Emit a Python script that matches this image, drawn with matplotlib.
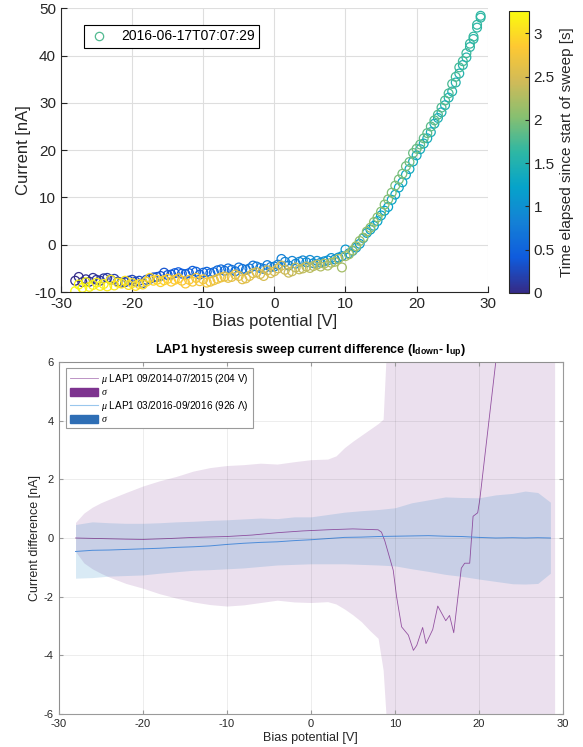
import numpy as np
import matplotlib.pyplot as plt
from matplotlib.colors import LinearSegmentedColormap, Normalize
from matplotlib.cm import ScalarMappable
from matplotlib.lines import Line2D
from matplotlib.patches import Patch

plt.rcParams['font.family'] = ['Liberation Sans', 'DejaVu Sans']
plt.rcParams['mathtext.fontset'] = 'custom'
plt.rcParams['mathtext.rm'] = 'Liberation Sans'
plt.rcParams['mathtext.bf'] = 'Liberation Sans:bold'
plt.rcParams['mathtext.it'] = 'Liberation Serif:italic'
plt.rcParams['axes.unicode_minus'] = False

# ---- top panel: one sweep, up then down ----
bias_up = np.arange(-28, 29.01, 0.5)
bias_down = bias_up[::-1]
cur_up = [-7.6, -6.8, -7.9, -7.3, -7.8, -7.0, -7.4, -7.6, -7.1, -7.0,
          -7.4, -7.2, -7.8, -8.0, -7.9, -7.6, -7.4, -7.8, -7.6, -8.1,
          -7.4, -7.2, -6.9, -6.8, -6.6, -5.9, -6.4, -6.3, -6.0, -5.8,
          -6.1, -6.2, -6.0, -5.5, -5.7, -6.3, -5.9, -5.7, -6.0, -5.8,
          -5.4, -5.2, -5.5, -5.0, -5.3, -5.6, -4.8, -5.1, -5.3, -5.0,
          -4.4, -4.6, -4.9, -5.1, -4.3, -4.7, -4.6, -4.2, -3.0, -3.6,
          -4.4, -3.4, -4.0, -3.6, -3.3, -3.7, -3.2, -3.9, -3.4, -3.8,
          -3.5, -3.3, -2.8, -3.1, -2.7, -2.4, -1.0, -1.8, -1.3, -0.6,
          0.2, 1.4, 2.5, 3.2, 4.0, 5.0, 6.2, 7.2, 8.0, 9.5,
          10.6, 12.1, 13.2, 14.8, 16.0, 17.6, 18.9, 20.2, 21.4, 22.5,
          23.8, 25.6, 26.8, 28.0, 29.5, 31.1, 32.4, 34.3, 36.2, 38.0,
          39.6, 41.8, 43.5, 45.9, 48.4]
cur_down = [48.0, 46.5, 44.0, 42.5, 40.5, 38.8, 37.5, 35.5, 34.0, 32.0,
            30.5, 29.0, 27.5, 26.3, 25.0, 23.6, 22.5, 21.2, 20.3, 19.4,
            17.5, 16.6, 15.0, 13.8, 12.5, 11.0, 9.6, 8.5, 7.0, 5.8,
            4.8, 3.6, 2.8, 1.5, 0.8, -0.3, -1.2, -2.0, -2.4, -4.8,
            -3.0, -3.6, -3.8, -4.4, -4.0, -4.6, -4.2, -4.5, -4.9, -4.6,
            -5.0, -5.2, -4.8, -5.6, -5.9, -5.3, -4.4, -5.0, -5.6, -6.0,
            -5.4, -6.6, -6.2, -5.8, -6.0, -6.6, -7.1, -7.3, -6.6, -6.3,
            -6.8, -7.0, -6.7, -6.9, -7.2, -7.5, -7.8, -8.0, -7.3, -7.7,
            -7.0, -7.8, -7.4, -8.2, -7.6, -7.1, -7.4, -7.8, -7.2, -7.5,
            -7.9, -7.4, -7.6, -7.0, -7.8, -8.4, -8.3, -8.7, -8.1, -8.5,
            -7.6, -8.2, -8.0, -8.6, -7.4, -8.8, -8.3, -8.7, -8.0, -8.5,
            -8.9, -7.9, -9.1, -8.4, -9.8]
t_end = 3.26
sweep_label = '2016-06-17T07:07:29'

# ---- bottom panel: hysteresis statistics ----
p_band_x = [-28, -27, -26, -25, -24, -22, -20, -18, -16, -14, -12, -10, -8, -6,
            -4, -2, 0, 2, 3, 4, 5, 6, 7, 8, 8.6, 9.0, 9.5, 29]
p_hi = [0.53, 0.85, 1.05, 1.2, 1.32, 1.55, 1.77, 1.95, 2.1, 2.28, 2.4, 2.47, 2.5, 2.55,
        2.52, 2.6, 2.67, 2.69, 2.8, 3.08, 3.3, 3.5, 3.7, 3.9, 4.05, 6.5, 12, 12]
p_lo = [-0.46, -0.85, -1.05, -1.2, -1.33, -1.55, -1.71, -1.9, -2.05, -2.18, -2.27, -2.32, -2.28, -2.2,
        -2.12, -2.18, -2.2, -2.17, -2.25, -2.42, -2.62, -2.85, -3.15, -3.42, -4.5, -6.3, -12, -12]
p_mu_x = [-28, -25, -22, -20, -17, -14, -10, -7, -4, -1, 2, 5, 8, 8.4, 8.8, 9.4, 9.8,
          10.2, 10.8, 11.6, 12.2, 12.6, 13.3, 13.7, 14.5, 15.1, 16.05, 16.5, 17.0,
          17.9, 18.3, 18.9, 19.1, 19.3, 19.85, 20.1, 22.0, 22.5]
p_mu = [0.0, -0.02, -0.04, -0.05, -0.02, 0.02, 0.05, 0.1, 0.18, 0.24, 0.28, 0.31, 0.28, 0.2, -0.1, -0.7, -1.1,
        -2.0, -3.03, -3.31, -3.83, -3.66, -3.05, -3.6, -3.12, -2.32, -2.82, -2.64, -3.23,
        -1.03, -0.86, -0.86, -0.06, 0.74, 0.86, 1.31, 6.0, 8.0]
b_x = [-28, -26, -24, -22, -20, -18, -16, -14, -12, -10, -8, -6, -4, -2, 0,
       2, 4, 6, 8, 10, 12, 14, 16, 18, 20, 22, 24, 25.5, 27, 28.5]
b_hi = [0.46, 0.55, 0.52, 0.5, 0.5, 0.52, 0.55, 0.57, 0.6, 0.62, 0.65, 0.68, 0.66, 0.72, 0.72,
        0.8, 0.88, 0.93, 0.97, 1.03, 1.2, 1.3, 1.4, 1.38, 1.37, 1.47, 1.52, 1.6, 1.55, 1.22]
b_lo = [-1.37, -1.35, -1.3, -1.28, -1.26, -1.2, -1.15, -1.1, -1.08, -1.05, -1.02, -0.97, -0.92, -0.9, -0.88,
        -0.88, -0.88, -0.9, -0.92, -0.95, -1.05, -1.14, -1.24, -1.31, -1.4, -1.48, -1.56, -1.57, -1.55, -1.2]
b_mu = [-0.46, -0.42, -0.41, -0.39, -0.37, -0.35, -0.32, -0.3, -0.27, -0.22, -0.18, -0.15, -0.13, -0.09, -0.06,
        -0.02, 0.02, 0.03, 0.05, 0.06, 0.07, 0.08, 0.06, 0.05, 0.02, 0.0, 0.01, 0.0, 0.01, 0.0]
lab_p = r'$\mu$ LAP1 09/2014-07/2015 (204 V)'
lab_b = r'$\mu$ LAP1 03/2016-09/2016 (926 Λ)'

parula = LinearSegmentedColormap.from_list('parula', [
    (0.2081, 0.1663, 0.5292), (0.0592, 0.3599, 0.8684), (0.0780, 0.5041, 0.8384),
    (0.0232, 0.6407, 0.7925), (0.1802, 0.7178, 0.6425), (0.5301, 0.7491, 0.4394),
    (0.8186, 0.7328, 0.3446), (0.9956, 0.7862, 0.1963), (0.9763, 0.9831, 0.0538)])

dark = (0.15, 0.15, 0.15)
purple = (0.494, 0.184, 0.556)
blue = (0.0, 0.447, 0.741)

fig = plt.figure(figsize=(5.83, 7.47), dpi=100)
ax1 = fig.add_axes([0.1046, 0.609, 0.732, 0.380])
cax = fig.add_axes([0.873, 0.608, 0.034, 0.3775])
ax2 = fig.add_axes([0.1007, 0.0442, 0.865, 0.4712])

# top
bias = np.concatenate([bias_up, bias_down])
cur = np.array(cur_up + cur_down)
t = np.linspace(0, t_end, len(bias))
norm = Normalize(0, t_end)
ax1.scatter(bias, cur, s=40, facecolors='none', edgecolors=parula(norm(t)), linewidths=0.9)
ax1.set_xlim(-30, 30)
ax1.set_ylim(-10, 50)
ax1.set_xticks(range(-30, 31, 10))
ax1.set_yticks(range(-10, 51, 10))
ax1.grid(True, color='#dedede', lw=0.8)
ax1.set_axisbelow(True)
for s in ['top', 'right']:
    ax1.spines[s].set_visible(False)
for s in ['left', 'bottom']:
    ax1.spines[s].set_color(dark)
ax1.tick_params(direction='in', length=4, labelsize=11, colors=dark)
ax1.set_xlabel('Bias potential [V]', fontsize=12, color=dark, labelpad=2)
ax1.set_ylabel('Current [nA]', fontsize=12, color=dark, labelpad=2)
h = Line2D([], [], ls='none', marker='o', mfc='none', mec=parula(0.55), ms=6, mew=0.9)
leg = ax1.legend([h], [sweep_label], loc='upper left', bbox_to_anchor=(0.054, 0.94),
                 borderaxespad=0, fontsize=10, fancybox=False, framealpha=1,
                 handlelength=1.6, borderpad=0.3)
leg.get_frame().set_edgecolor('black')
leg.get_frame().set_linewidth(0.8)

cb = fig.colorbar(ScalarMappable(norm=norm, cmap=parula), cax=cax)
cb.set_ticks([0, 0.5, 1, 1.5, 2, 2.5, 3])
cb.set_ticklabels(['0', '0.5', '1', '1.5', '2', '2.5', '3'])
cb.ax.tick_params(direction='in', length=3, labelsize=11, colors=dark)
cb.outline.set_edgecolor(dark)
cb.set_label('Time elapsed since start of sweep [s]', fontsize=11, color=dark)

# bottom
ax2.fill_between(p_band_x, p_lo, p_hi, color=purple, alpha=0.15, lw=0)
ax2.fill_between(b_x, b_lo, b_hi, color=blue, alpha=0.15, lw=0)
ax2.plot(p_mu_x, p_mu, color=purple, lw=0.6, alpha=0.8)
ax2.plot(b_x, b_mu, color=(0.3, 0.55, 0.85), lw=0.7)
ax2.set_xlim(-30, 30)
ax2.set_ylim(-6, 6)
ax2.set_xticks(range(-30, 31, 10))
ax2.set_yticks(range(-6, 7, 2))
ax2.grid(True, color='black', alpha=0.07, lw=0.7)
ax2.set_axisbelow(False)
for s in ax2.spines.values():
    s.set_color('#9a9a9a')
ax2.tick_params(direction='in', length=3, labelsize=8, colors='#9a9a9a', labelcolor=dark,
                top=True, right=True)
ax2.set_xlabel('Bias potential [V]', fontsize=9, color=dark, labelpad=2)
ax2.set_ylabel('Current difference [nA]', fontsize=9, color=dark, labelpad=2)
ax2.set_title(r'LAP1 hysteresis sweep current difference (I$_{\mathbf{down}}$- I$_{\mathbf{up}}$)',
              fontsize=9, fontweight='bold', pad=6)
handles = [Line2D([], [], color=purple, lw=0.6, alpha=0.6), Patch(color=(0.49, 0.2, 0.56)),
           Line2D([], [], color=(0.6, 0.78, 0.93), lw=0.8), Patch(color=(0.18, 0.43, 0.71))]
leg2 = ax2.legend(handles, [lab_p, r'$\sigma$', lab_b, r'$\sigma$'], loc='upper left',
                  bbox_to_anchor=(0.0145, 0.983), borderaxespad=0, fontsize=7.2,
                  fancybox=False, framealpha=1, handlelength=2.8, handleheight=0.9,
                  labelspacing=0.15, borderpad=0.4, handletextpad=0.3)
leg2.get_frame().set_edgecolor('#9a9a9a')
leg2.get_frame().set_linewidth(0.8)

fig.savefig('out.png', dpi=100, facecolor='white')
